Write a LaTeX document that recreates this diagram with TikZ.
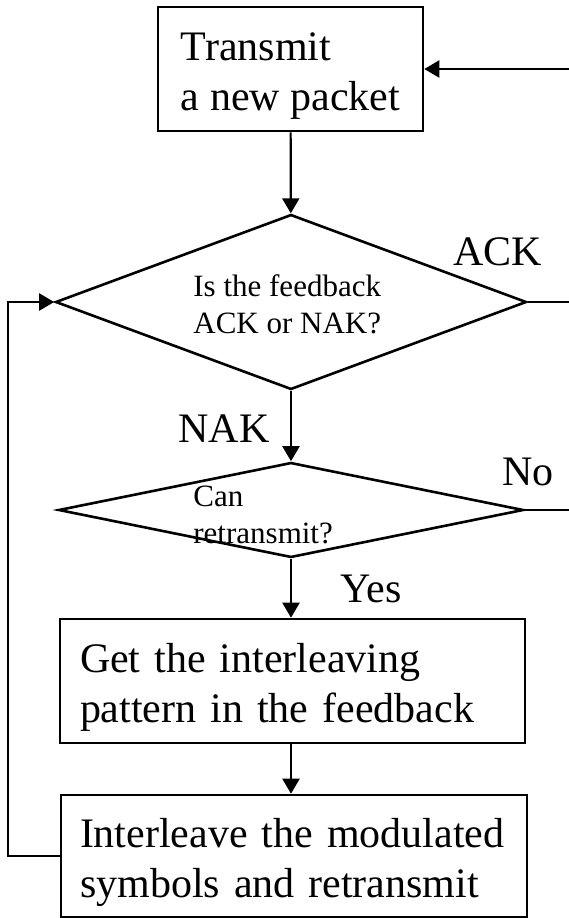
\documentclass[tikz,border=0pt]{standalone}
\usepackage{fontspec}
\setmainfont{Liberation Serif}
\usetikzlibrary{shapes.geometric,arrows.meta}

% pushes the first line of a box down a little
\newcommand{\boxpad}{\rule{0pt}{20.8pt}}

\tikzset{
  procbox/.style={draw, line width=1.3pt, inner sep=0pt, align=left, font=\fontsize{21}{25}\selectfont},
  decision/.style={draw, diamond, line width=1.3pt, inner sep=0pt},
  qtext/.style={inner sep=0pt, anchor=north west, align=left, font=\fontsize{15.5}{18.5}\selectfont},
  branch/.style={inner sep=0pt, anchor=base west, font=\fontsize{21}{25}\selectfont},
  flowline/.style={line width=1.1pt},
  flowarrow/.style={line width=1.1pt, -{Triangle[length=7.5pt,width=8.5pt]}}
}

\begin{document}
\begin{tikzpicture}[x=0.5pt, y=-0.5pt]
        \useasboundingbox (0,0) rectangle (569,918);
        % Boxes and decisions
        \node[procbox, minimum width=132.5pt, minimum height=62pt] (transmit) at (290.5,69) {\boxpad Transmit\\a new packet};
        \node[decision, minimum width=235.5pt, minimum height=87.5pt] (feedback) at (291,302) {};
        \node[qtext] (feedbacktext) at (193,274) {Is the feedback\\ACK or NAK?};
        \node[decision, minimum width=232.5pt, minimum height=47.5pt] (retx) at (291,510) {};
        \node[qtext] (retxtext) at (193,486) {Can\\retransmit?};
        \node[procbox, text width=212.5pt, minimum width=232.5pt, minimum height=62pt] (getpattern) at (292.5,681) {\boxpad Get the interleaving\\pattern in the feedback};
        \node[procbox, text width=214pt, minimum width=233pt, minimum height=61pt] (interleave) at (294,856) {\boxpad Interleave the modulated\\symbols and retransmit};
        % Branch labels
        \node[branch] (acklabel) at (453,265) {ACK};
        \node[branch] (naklabel) at (178,442) {NAK};
        \node[branch] (nolabel) at (502,485) {No};
        \node[branch] (yeslabel) at (340,602) {Yes};
        % Connectors
        \coordinate (newin) at (569,69);
        \coordinate (ackout) at (569,302);
        \coordinate (noout) at (569,510);
        \coordinate (loopturn) at (8,302);
        \draw[flowarrow] (transmit) -- (feedback);
        \draw[flowarrow] (feedback) -- (retx);
        \draw[flowarrow] (retx) -- (retx |- getpattern.north);
        \draw[flowarrow] (getpattern.south -| retx) -- (retx |- interleave.north);
        \draw[flowarrow] (interleave.west) -| (loopturn) -- (feedback.west);
        \draw[flowline] (feedback.east) -- (ackout);
        \draw[flowline] (retx.east) -- (noout);
        \draw[flowarrow] (newin) -- (transmit.east);
      \end{tikzpicture}
\end{document}
